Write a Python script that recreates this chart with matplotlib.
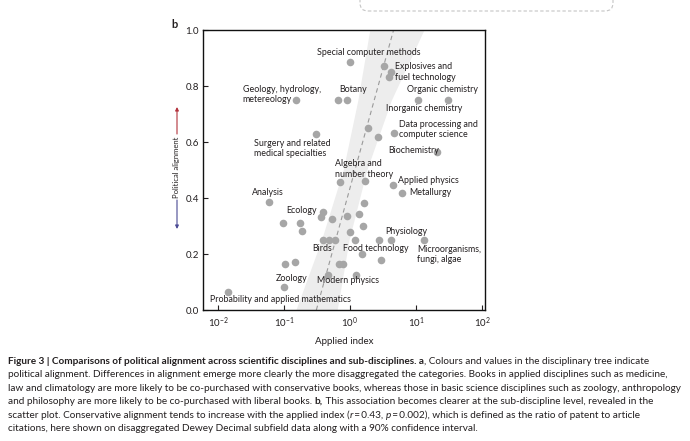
import matplotlib
matplotlib.use('Agg')
import matplotlib.pyplot as plt
import numpy as np
from matplotlib.patches import FancyBboxPatch
from matplotlib.transforms import IdentityTransform
from matplotlib.ticker import NullLocator

# ---------------- data ----------------
applied_index = [0.99, 3.30, 4.13, 3.91, 0.153, 0.662, 0.893, 10.6, 30.8,
                 1.90, 2.68, 4.65, 0.303, 21.1, 0.709, 1.69, 4.54, 6.18,
                 0.0597, 1.63, 0.395, 0.360, 0.539, 0.902, 1.35, 0.0966,
                 0.177, 0.186, 1.56, 1.00, 0.395, 0.486, 0.597, 1.17, 2.77,
                 4.24, 13.0, 1.51, 2.95, 0.104, 0.146, 0.685, 0.787, 0.465,
                 1.24, 0.101, 0.0141]
political_alignment = [0.885, 0.873, 0.850, 0.831, 0.750, 0.750, 0.750, 0.750,
                       0.750, 0.651, 0.619, 0.633, 0.628, 0.565, 0.458, 0.461,
                       0.446, 0.417, 0.387, 0.382, 0.351, 0.333, 0.324, 0.336,
                       0.343, 0.3125, 0.3125, 0.283, 0.300, 0.280, 0.250, 0.250,
                       0.250, 0.250, 0.250, 0.250, 0.249, 0.200, 0.178, 0.164,
                       0.171, 0.165, 0.165, 0.124, 0.124, 0.081, 0.063]

# fitted line (applied index at alignment 0 and 1)
fit_alignment = [0.0, 1.0]
fit_index = [10 ** -0.51, 10 ** 0.66]
# 90% confidence band (applied index bounds at given alignment levels)
band_alignment = [0.0, 0.25, 0.5, 0.75, 1.0]
band_low = [10 ** -0.821, 10 ** -0.433, 10 ** -0.104, 10 ** 0.119, 10 ** 0.299]
band_high = [10 ** -0.194, 10 ** -0.015, 10 ** 0.254, 10 ** 0.627, 10 ** 1.119]

x_ticks = [1e-2, 1e-1, 1e0, 1e1, 1e2]
y_ticks = [0.0, 0.2, 0.4, 0.6, 0.8, 1.0]
y_tick_labels = ['0.0', '0.2', '0.4', '0.6', '0.8', '1.0']

# text annotations: (text, x, y, ha)
annotations = [
    ("Special computer methods", 1.92, 0.921, 'center'),
    ("Explosives and\nfuel technology", 4.86, 0.850, 'left'),
    ("Geology, hydrology,\nmetereology", 0.0236, 0.770, 'left'),
    ("Botany", 1.11, 0.786, 'center'),
    ("Organic chemistry", 25.3, 0.786, 'center'),
    ("Inorganic chemistry", 13.2, 0.721, 'center'),
    ("Data processing and\ncomputer science", 5.58, 0.645, 'left'),
    ("Surgery and related\nmedical specialties", 0.0357, 0.577, 'left'),
    ("Biochemistry", 3.82, 0.568, 'left'),
    ("Algebra and\nnumber theory", 0.597, 0.504, 'left'),
    ("Applied physics", 5.39, 0.461, 'left'),
    ("Metallurgy", 7.86, 0.418, 'left'),
    ("Analysis", 0.0577, 0.418, 'center'),
    ("Ecology", 0.186, 0.354, 'center'),
    ("Physiology", 7.1, 0.279, 'center'),
    ("Birds", 0.376, 0.221, 'center'),
    ("Food technology", 2.49, 0.221, 'center'),
    ("Microorganisms,\nfungi, algae", 10.35, 0.198, 'left'),
    ("Zoology", 0.132, 0.111, 'center'),
    ("Modern physics", 0.918, 0.104, 'center'),
    ("Probability and applied mathematics", 0.0871, 0.039, 'center'),
]

caption_lines = [
    [("Figure 3 | Comparisons of political alignment across scientific disciplines and sub-disciplines. a", 'bold', 'normal'),
     (", Colours and values in the disciplinary tree indicate", 'normal', 'normal')],
    [("political alignment. Differences in alignment emerge more clearly the more disaggregated the categories. Books in applied disciplines such as medicine,", 'normal', 'normal')],
    [("law and climatology are more likely to be co-purchased with conservative books, whereas those in basic science disciplines such as zoology, anthropology", 'normal', 'normal')],
    [("and philosophy are more likely to be co-purchased with liberal books. ", 'normal', 'normal'),
     ("b,", 'bold', 'normal'),
     (" This association becomes clearer at the sub-discipline level, revealed in the", 'normal', 'normal')],
    [("scatter plot. Conservative alignment tends to increase with the applied index (", 'normal', 'normal'),
     ("r", 'normal', 'italic'),
     ("\u2009=\u20090.43, ", 'normal', 'normal'),
     ("p", 'normal', 'italic'),
     ("\u2009=\u20090.002), which is defined as the ratio of patent to article", 'normal', 'normal')],
    [("citations, here shown on disaggregated Dewey Decimal subfield data along with a 90% confidence interval.", 'normal', 'normal')],
]

# ---------------- figure ----------------
plt.rcParams['font.family'] = ['Lato', 'DejaVu Sans']
plt.rcParams['mathtext.fontset'] = 'custom'
plt.rcParams['mathtext.rm'] = 'Lato'
plt.rcParams['mathtext.it'] = 'Lato:italic'
plt.rcParams['mathtext.bf'] = 'Lato:bold'

W, H = 690, 441
TXT = '#231f20'
fig = plt.figure(figsize=(W / 100, H / 100), dpi=100)


def fx(px):
    return px / W


def fy(py):
    return 1 - py / H


ax = fig.add_axes([fx(203), fy(310), fx(485) - fx(203), fy(30) - fy(310)])
ax.set_xscale('log')
ax.set_xlim(10 ** -2.227, 10 ** 2.045)
ax.set_ylim(0, 1)

ax.fill_betweenx(band_alignment, band_low, band_high, color='#ededed', lw=0, zorder=0)
ax.plot(fit_index, fit_alignment, ls=(0, (4, 3)), color='#9a9a9a', lw=0.8, zorder=1)
ax.scatter(applied_index, political_alignment, s=30, color='#a6a6a6', lw=0, zorder=3)

for txt, x, y, ha in annotations:
    ax.text(x, y, txt, ha=ha, va='center', fontsize=6.4, color=TXT, linespacing=1.2, zorder=4)

ax.set_xticks(x_ticks)
ax.xaxis.set_minor_locator(NullLocator())
ax.set_yticks(y_ticks)
ax.set_yticklabels(y_tick_labels)
ax.tick_params(direction='in', length=3.5, width=0.8, labelsize=7, pad=3, colors=TXT)
ax.tick_params(axis='x', pad=4)
for s in ax.spines.values():
    s.set_linewidth(1.0)
    s.set_color('#111111')
ax.set_xlabel('Applied index', fontsize=7, color=TXT, labelpad=5)

# panel letter
fig.text(fx(175), fy(25), 'b', fontweight='bold', fontsize=8, ha='center', va='center', color=TXT)

# y label with arrows
fig.text(fx(177), fy(167), 'Political alignment', rotation=90, fontsize=5.5,
         ha='center', va='center', color=TXT)
ax.annotate('', xy=(177, H - 107), xytext=(177, H - 134), xycoords='figure pixels',
            textcoords='figure pixels', annotation_clip=False,
            arrowprops=dict(arrowstyle='-|>', color='#b3323c', lw=0.8, mutation_scale=5,
                            shrinkA=0, shrinkB=0))
ax.annotate('', xy=(177, H - 229), xytext=(177, H - 200), xycoords='figure pixels',
            textcoords='figure pixels', annotation_clip=False,
            arrowprops=dict(arrowstyle='-|>', color='#4b4a94', lw=0.8, mutation_scale=5,
                            shrinkA=0, shrinkB=0))

# dashed box (partial) at top right
box = FancyBboxPatch((360, H - 11), 253, 40, boxstyle='round,pad=0,rounding_size=8',
                     transform=IdentityTransform(), fill=False, ec='#c4c4c4',
                     lw=0.8, ls=(0, (3, 2)))
fig.add_artist(box)

# caption
renderer = fig.canvas.get_renderer()


def seg_width(s, **kw):
    t = fig.text(0, 0, '|' + s + '|', transform=IdentityTransform(), **kw)
    w1 = t.get_window_extent(renderer).width
    t.remove()
    t = fig.text(0, 0, '||', transform=IdentityTransform(), **kw)
    w0 = t.get_window_extent(renderer).width
    t.remove()
    return w1 - w0


ref_w = sum(seg_width(caption_lines[i][0][0], fontsize=10) for i in (1, 2, 5))
cap_fs = 10 * (664 + 675 + 459) / ref_w

line_y = [361, 374, 388, 401, 415, 428]
for segs, yc in zip(caption_lines, line_y):
    x = 8
    for s, wt, st in segs:
        kw = dict(fontsize=cap_fs, fontweight=wt, fontstyle=st, color=TXT)
        fig.text(x, H - yc - 3, s, transform=IdentityTransform(), va='baseline', ha='left', **kw)
        x += seg_width(s, **kw)

fig.savefig('out.png', dpi=100)
